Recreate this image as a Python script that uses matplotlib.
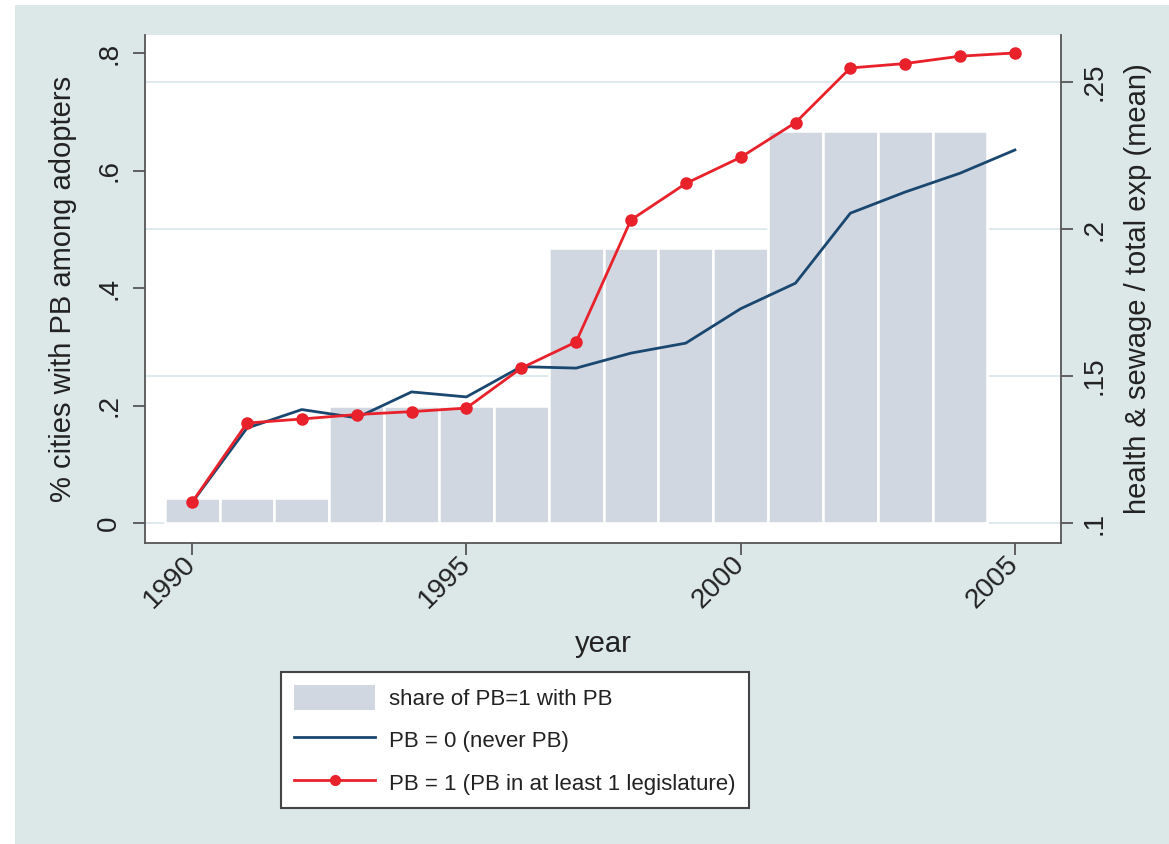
import matplotlib
matplotlib.use("Agg")
import matplotlib.pyplot as plt
from matplotlib.patches import Rectangle, Patch
from matplotlib.lines import Line2D
from matplotlib.transforms import blended_transform_factory

plt.rcParams['font.family'] = ['Liberation Sans', 'DejaVu Sans']

# data
years = list(range(1990, 2006))
bar_years = list(range(1990, 2005))
share_pb = [0.043, 0.043, 0.043, 0.2, 0.2, 0.2, 0.2, 0.468, 0.468, 0.468, 0.468,
            0.667, 0.667, 0.667, 0.667]
pb0 = [0.107, 0.1323, 0.1386, 0.1358, 0.1446, 0.1429, 0.1532, 0.1527, 0.1578,
       0.1612, 0.1729, 0.1816, 0.2054, 0.2126, 0.219, 0.2269]
pb1 = [0.1071, 0.134, 0.1354, 0.1369, 0.1379, 0.1391, 0.1527, 0.1616, 0.2031,
       0.2155, 0.2244, 0.2362, 0.2548, 0.2563, 0.2588, 0.2599]
left_ticks = [0, 0.2, 0.4, 0.6, 0.8]
left_labels = ["0", ".2", ".4", ".6", ".8"]
right_ticks = [0.1, 0.15, 0.2, 0.25]
right_labels = [".1", ".15", ".2", ".25"]
x_ticks = [1990, 1995, 2000, 2005]

bg = "#dce7e7"
bar_col = "#d0d7e1"
blue = "#1a476f"
red = "#e8212b"
grid_col = "#dbe8ec"
txt = "#222222"
axcol = "#555555"

fig = plt.figure(figsize=(11.69, 8.44), dpi=100, facecolor="white")
fig.patches.append(Rectangle((15 / 1169, 0), 1 - 15 / 1169, 1 - 5 / 844,
                             transform=fig.transFigure, facecolor=bg,
                             edgecolor="none", zorder=-10))

ax = fig.add_axes([0.124, 0.3566, 0.7836, 0.6019])
ax2 = ax.twinx()

ax.set_xlim(1989.14, 2005.84)
ax.set_ylim(-0.034, 0.831)
ax2.set_ylim(0.0932, 0.266)

# gridlines follow the right axis but sit under the bars
gtr = blended_transform_factory(ax.transAxes, ax2.transData)
for v in right_ticks:
    ax.plot([0, 1], [v, v], transform=gtr, color=grid_col, lw=1.3, zorder=0)

ax.bar(bar_years, share_pb, width=1.0, color=bar_col, edgecolor="white",
       linewidth=1.8, zorder=1)
ax2.plot(years, pb0, color=blue, lw=2, zorder=3)
ax2.plot(years, pb1, color=red, lw=2, marker="o", markersize=8, zorder=4)

for a in (ax, ax2):
    a.spines["top"].set_visible(False)
    for s in ("left", "right", "bottom"):
        a.spines[s].set_color(axcol)
        a.spines[s].set_linewidth(1.3)
ax.spines["right"].set_visible(False)
ax2.spines["left"].set_visible(False)
ax2.spines["bottom"].set_visible(False)

ax.set_yticks(left_ticks)
ax.set_yticklabels(left_labels, rotation=90, va="center", fontsize=20, color=txt)
ax2.set_yticks(right_ticks)
ax2.set_yticklabels(right_labels, rotation=90, va="center", fontsize=20, color=txt)
ax.set_xticks(x_ticks)
ax.set_xticklabels([str(x) for x in x_ticks], rotation=45, ha="right", va="center",
                   rotation_mode="anchor", fontsize=20, color=txt)
ax.tick_params(axis="x", length=8.5, width=1.3, color=axcol, pad=4)
ax.tick_params(axis="y", length=8.5, width=1.3, color=axcol, pad=8)
ax2.tick_params(axis="y", length=8.5, width=1.3, color=axcol, pad=6.5)

ax.set_xlabel("year", fontsize=21, color=txt, labelpad=12)
ax.set_ylabel("% cities with PB among adopters", fontsize=21, color=txt, labelpad=14)
ax2.set_ylabel("health & sewage / total exp (mean)", fontsize=21, color=txt,
               labelpad=12)

handles = [Patch(facecolor=bar_col, edgecolor="none"),
           Line2D([], [], color=blue, lw=2),
           Line2D([], [], color=red, lw=2, marker="o", markersize=7)]
labels = ["share of PB=1 with PB", "PB = 0 (never PB)",
          "PB = 1 (PB in at least 1 legislature)"]
leg = fig.legend(handles, labels, loc="upper left", bbox_to_anchor=(0.2404, 0.2038),
                 fontsize=16, frameon=True, fancybox=False, framealpha=1,
                 handlelength=3.65, handleheight=1.3, handletextpad=0.6,
                 labelspacing=0.8, borderpad=0.6, borderaxespad=0)
leg.get_frame().set_edgecolor("#444444")
leg.get_frame().set_facecolor("white")
leg.get_frame().set_linewidth(1.5)
for t in leg.get_texts():
    t.set_color(txt)

fig.savefig("out.png", dpi=100, facecolor=fig.get_facecolor())
